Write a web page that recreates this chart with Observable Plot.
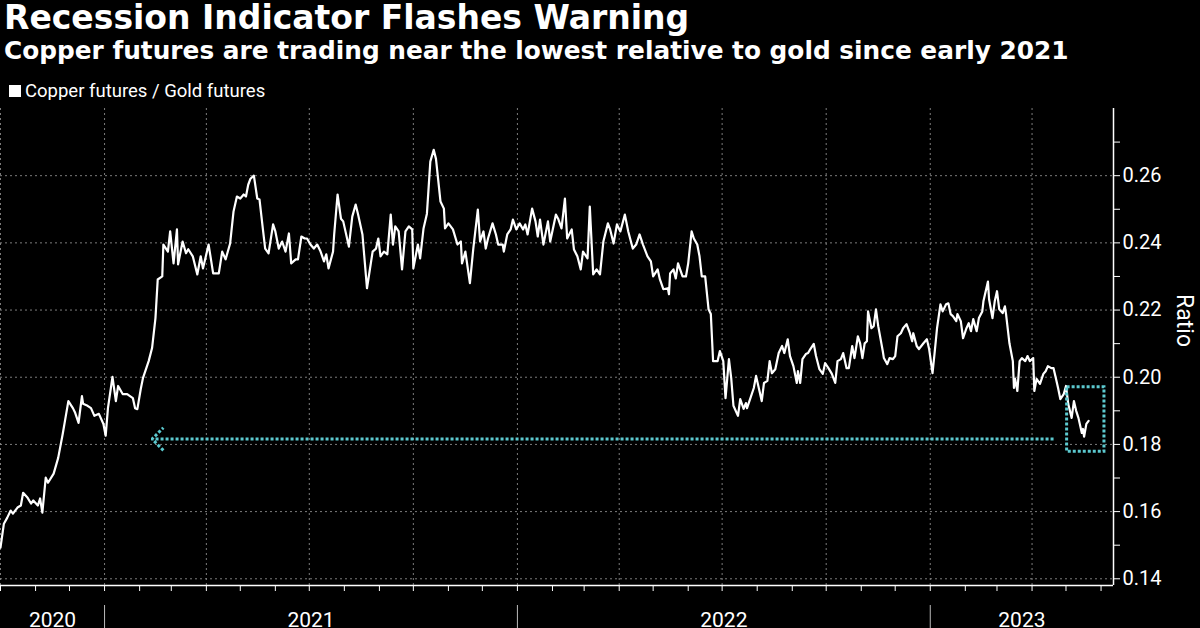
<!DOCTYPE html>
<html>
<head>
<meta charset="utf-8">
<script src="https://cdn.jsdelivr.net/npm/d3@7"></script>
<script src="https://cdn.jsdelivr.net/npm/@observablehq/plot@0.6"></script>
<style>
  html, body { margin: 0; padding: 0; background: #000; }
  body { width: 1200px; height: 628px; overflow: hidden; position: relative; font-family: "DejaVu Sans", sans-serif; color: #fff; }
  #title { position: absolute; left: 4px; top: 1px; font-weight: 700; font-size: 33px; line-height: 34px; white-space: nowrap; }
  #subtitle { position: absolute; left: 4px; top: 37px; font-weight: 700; font-size: 24.8px; line-height: 28px; white-space: nowrap; }
  #legend { position: absolute; left: 9px; top: 80px; font-size: 18.5px; line-height: 22px; font-family: Roboto, sans-serif; white-space: nowrap; display: flex; align-items: center; }
  #legend .sw { width: 12px; height: 12px; background: #fff; margin-right: 4px; }
  #chart { position: absolute; left: 0; top: 100px; }
</style>
</head>
<body>
<div id="title">Recession Indicator Flashes Warning</div>
<div id="subtitle">Copper futures are trading near the lowest relative to gold since early 2021</div>
<div id="legend"><span class="sw"></span><span>Copper futures / Gold futures</span></div>
<div id="chart"></div>
<script>
// ---- Data: Copper futures / Gold futures ratio ----
const dates = [
"2020-10-01","2020-10-04","2020-10-07","2020-10-10","2020-10-12","2020-10-16","2020-10-19","2020-10-21","2020-10-25","2020-10-28","2020-10-30",
"2020-11-03","2020-11-05","2020-11-07","2020-11-10","2020-11-12","2020-11-17","2020-11-21","2020-11-25","2020-11-27","2020-11-30",
"2020-12-04","2020-12-06","2020-12-09","2020-12-12","2020-12-13","2020-12-17","2020-12-20","2020-12-23","2020-12-27","2020-12-31",
"2021-01-02","2021-01-04","2021-01-08","2021-01-11","2021-01-13","2021-01-17","2021-01-21","2021-01-26","2021-01-28","2021-01-30",
"2021-02-02","2021-02-04","2021-02-09","2021-02-12","2021-02-15","2021-02-17","2021-02-21","2021-02-22","2021-02-26","2021-02-28",
"2021-03-03","2021-03-06","2021-03-07","2021-03-11","2021-03-14","2021-03-16","2021-03-20","2021-03-24","2021-03-27","2021-03-29",
"2021-04-03","2021-04-07","2021-04-12","2021-04-15","2021-04-18","2021-04-22","2021-04-25","2021-04-28",
"2021-05-01","2021-05-04","2021-05-06","2021-05-08","2021-05-10","2021-05-13","2021-05-16","2021-05-18","2021-05-21","2021-05-23","2021-05-26","2021-05-30",
"2021-06-01","2021-06-04","2021-06-07","2021-06-10","2021-06-13","2021-06-15","2021-06-19","2021-06-21","2021-06-24","2021-06-27","2021-06-29",
"2021-07-02","2021-07-05","2021-07-08","2021-07-11","2021-07-14","2021-07-16","2021-07-18","2021-07-22","2021-07-23","2021-07-26","2021-07-29","2021-07-31",
"2021-08-05","2021-08-08","2021-08-11","2021-08-13","2021-08-17","2021-08-21","2021-08-26","2021-08-29","2021-08-31",
"2021-09-02","2021-09-05","2021-09-08","2021-09-11","2021-09-13","2021-09-15","2021-09-18","2021-09-21","2021-09-24","2021-09-27","2021-09-30",
"2021-10-01","2021-10-05","2021-10-07","2021-10-10","2021-10-13","2021-10-16","2021-10-19","2021-10-21","2021-10-25","2021-10-28","2021-10-29",
"2021-11-01","2021-11-05","2021-11-09","2021-11-12","2021-11-13","2021-11-16","2021-11-20","2021-11-23","2021-11-27","2021-11-29",
"2021-12-02","2021-12-04","2021-12-06","2021-12-10","2021-12-13","2021-12-15","2021-12-19","2021-12-20","2021-12-23","2021-12-26","2021-12-28","2021-12-31",
"2022-01-03","2022-01-06","2022-01-08","2022-01-10","2022-01-14","2022-01-17","2022-01-19","2022-01-21","2022-01-24","2022-01-28","2022-01-30",
"2022-02-04","2022-02-06","2022-02-09","2022-02-12","2022-02-14","2022-02-18","2022-02-20","2022-02-23","2022-02-26","2022-02-28",
"2022-03-04","2022-03-06","2022-03-09","2022-03-12","2022-03-15","2022-03-18","2022-03-22","2022-03-24","2022-03-27","2022-03-30",
"2022-04-02","2022-04-06","2022-04-09","2022-04-13","2022-04-16","2022-04-19","2022-04-22","2022-04-26","2022-04-29",
"2022-05-01","2022-05-05","2022-05-07","2022-05-10","2022-05-14","2022-05-15","2022-05-16","2022-05-19","2022-05-21","2022-05-23","2022-05-27","2022-05-30",
"2022-06-01","2022-06-04","2022-06-06","2022-06-09","2022-06-11","2022-06-13","2022-06-16","2022-06-19","2022-06-21","2022-06-23","2022-06-27","2022-06-29",
"2022-07-02","2022-07-04","2022-07-07","2022-07-09","2022-07-11","2022-07-15","2022-07-17","2022-07-20","2022-07-22","2022-07-23","2022-07-26","2022-07-29","2022-07-31",
"2022-08-02","2022-08-05","2022-08-07","2022-08-10","2022-08-12","2022-08-14","2022-08-17","2022-08-20","2022-08-23","2022-08-25","2022-08-28","2022-08-30",
"2022-09-02","2022-09-05","2022-09-06","2022-09-08","2022-09-10","2022-09-13","2022-09-15","2022-09-17","2022-09-20","2022-09-22","2022-09-25","2022-09-28","2022-09-30",
"2022-10-03","2022-10-06","2022-10-09","2022-10-11","2022-10-14","2022-10-16","2022-10-19","2022-10-21","2022-10-24","2022-10-26","2022-10-29","2022-10-31",
"2022-11-02","2022-11-04","2022-11-06","2022-11-07","2022-11-10","2022-11-12","2022-11-14","2022-11-16","2022-11-20","2022-11-21","2022-11-24","2022-11-26","2022-11-29",
"2022-12-01","2022-12-03","2022-12-06","2022-12-08","2022-12-11","2022-12-14","2022-12-16","2022-12-17","2022-12-20","2022-12-22","2022-12-26","2022-12-29","2022-12-31",
"2023-01-03","2023-01-05","2023-01-07","2023-01-10","2023-01-12","2023-01-15","2023-01-17","2023-01-19","2023-01-21","2023-01-24","2023-01-25","2023-01-28","2023-01-30",
"2023-02-02","2023-02-04","2023-02-06","2023-02-08","2023-02-11","2023-02-13","2023-02-16","2023-02-17","2023-02-21","2023-02-22","2023-02-25","2023-02-27",
"2023-03-01","2023-03-03","2023-03-06","2023-03-08","2023-03-09","2023-03-12","2023-03-15","2023-03-16","2023-03-17","2023-03-19","2023-03-21","2023-03-23","2023-03-26","2023-03-28","2023-03-30",
"2023-04-02","2023-04-03","2023-04-05","2023-04-08","2023-04-11","2023-04-13","2023-04-15","2023-04-18","2023-04-20","2023-04-22","2023-04-24","2023-04-26","2023-04-29",
"2023-05-01","2023-05-03","2023-05-06","2023-05-08","2023-05-10","2023-05-12","2023-05-15","2023-05-16","2023-05-17","2023-05-19","2023-05-21"
];
const ratios = [
0.1493,0.1564,0.1582,0.1603,0.1594,0.1612,0.1618,0.1656,0.1641,0.1624,0.1633,
0.1618,0.1639,0.1597,0.1701,0.1686,0.1713,0.1760,0.1831,0.1870,0.1929,
0.1908,0.1894,0.1864,0.1944,0.1921,0.1915,0.1908,0.1885,0.1891,0.1861,
0.1826,0.1908,0.2001,0.1929,0.1974,0.1950,0.1950,0.1938,0.1908,0.1905,
0.1965,0.1998,0.2048,0.2087,0.2176,0.2291,0.2300,0.2395,0.2374,0.2434,
0.2339,0.2440,0.2336,0.2404,0.2369,0.2381,0.2360,0.2306,0.2360,0.2324,
0.2395,0.2309,0.2309,0.2374,0.2351,0.2398,0.2493,0.2538,
0.2532,0.2544,0.2538,0.2573,0.2591,0.2600,0.2532,0.2529,0.2440,0.2383,0.2369,0.2455,
0.2434,0.2383,0.2404,0.2374,0.2428,0.2339,0.2351,0.2351,0.2419,0.2413,0.2413,
0.2395,0.2383,0.2395,0.2374,0.2345,0.2366,0.2324,0.2374,0.2425,0.2544,0.2472,0.2464,
0.2389,0.2478,0.2514,0.2487,0.2425,0.2265,0.2374,0.2383,0.2413,
0.2360,0.2374,0.2366,0.2484,0.2395,0.2449,0.2434,0.2321,0.2434,0.2449,0.2440,
0.2324,0.2395,0.2354,0.2443,0.2487,0.2642,0.2677,0.2650,0.2523,0.2502,0.2443,
0.2458,0.2440,0.2395,0.2404,0.2339,0.2374,0.2280,0.2383,0.2499,0.2404,
0.2434,0.2383,0.2413,0.2458,0.2425,0.2395,0.2395,0.2374,0.2425,0.2440,0.2469,0.2440,
0.2458,0.2440,0.2455,0.2425,0.2502,0.2464,0.2419,0.2469,0.2395,0.2464,0.2404,
0.2484,0.2472,0.2443,0.2532,0.2413,0.2440,0.2380,0.2360,0.2321,0.2374,
0.2354,0.2508,0.2306,0.2321,0.2306,0.2404,0.2458,0.2440,0.2398,0.2455,
0.2434,0.2484,0.2434,0.2383,0.2395,0.2425,0.2395,0.2360,0.2345,
0.2300,0.2321,0.2291,0.2262,0.2265,0.2247,0.2309,0.2321,0.2294,0.2339,0.2300,0.2300,
0.2339,0.2434,0.2413,0.2395,0.2360,0.2300,0.2300,0.2202,0.2188,0.2048,0.2048,0.2078,
0.2048,0.1938,0.2054,0.1998,0.1915,0.1885,0.1935,0.1906,0.1923,0.1908,0.1938,0.1968,0.2004,
0.1974,0.1929,0.1983,0.1989,0.2048,0.2012,0.2024,0.2072,0.2093,0.2072,0.2113,0.2063,
0.2033,0.1983,0.2018,0.1983,0.2054,0.2069,0.2072,0.2084,0.2099,0.2063,0.2024,0.2010,0.2042,
0.2027,0.2010,0.1983,0.2048,0.2054,0.2072,0.2027,0.2027,0.2093,0.2057,0.2122,0.2101,
0.2057,0.2101,0.2107,0.2196,0.2146,0.2152,0.2202,0.2152,0.2078,0.2057,0.2039,0.2057,0.2054,
0.2063,0.2122,0.2131,0.2146,0.2158,0.2131,0.2107,0.2131,0.2093,0.2084,0.2101,0.2113,0.2084,
0.2012,0.2078,0.2146,0.2217,0.2196,0.2217,0.2220,0.2188,0.2182,0.2167,0.2188,0.2167,0.2116,
0.2146,0.2161,0.2137,0.2173,0.2137,0.2176,0.2196,0.2226,0.2285,0.2232,0.2176,0.2226,
0.2256,0.2202,0.2191,0.2211,0.2188,0.2101,0.2048,0.1968,0.1995,0.1959,0.2048,0.2057,0.2048,0.2063,0.2048,
0.2057,0.1959,0.1995,0.1980,0.2010,0.2018,0.2033,0.2027,0.2027,0.1998,0.1968,0.1935,0.1950,
0.1974,0.1920,0.1879,0.1929,0.1900,0.1879,0.1834,0.1846,0.1823,0.1861,0.1870
];

// Axis ticks and labels
const yMajorTicks = [0.14, 0.16, 0.18, 0.20, 0.22, 0.24, 0.26];
const yMinorTicks = [0.15, 0.17, 0.19, 0.21, 0.23, 0.25, 0.27];
const yearLabels = ["2020", "2021", "2022", "2023"];
const xStart = "2020-10-01";
const xEnd = "2023-06-12";
const yLow = 0.138;
const yHigh = 0.28;

// Annotation: arrow back to the early-2021 level and box around recent lows
const arrowFrom = "2023-04-20";
const arrowTo = "2021-02-12";
const arrowLevel = 0.1816;
const boxX = ["2023-05-02", "2023-06-04"];
const boxY = [0.1778, 0.1970];

// ---- Build ----
const parse = d3.utcParse("%Y-%m-%d");
const data = dates.map((d, i) => ({date: parse(d), value: ratios[i]}));
const x0 = parse(xStart), x1 = parse(xEnd);
const monthTicks = d3.utcMonth.range(x0, x1);
const quarterTicks = d3.utcMonth.every(3).range(x0, x1);
const yearStarts = d3.utcYear.range(d3.utcDay.offset(x0, 1), x1);
const yearMid = yearLabels.map(y => {
  const a = new Date(Math.max(+x0, Date.UTC(+y, 0, 1)));
  const b = new Date(Math.min(+x1, Date.UTC(+y + 1, 0, 1)));
  return {label: y, date: new Date((+a + +b) / 2)};
});
const cyan = "#5cc9cf";
const gridStyle = {stroke: "#8a8a8a", strokeOpacity: 0.9, strokeDasharray: "2,3", strokeWidth: 1};

const chart = Plot.plot({
  width: 1200,
  height: 528,
  marginTop: 8,
  marginBottom: 43,
  marginLeft: 0,
  marginRight: 87,
  style: {background: "black", color: "white", fontFamily: "Roboto, 'Open Sans', sans-serif", overflow: "visible"},
  x: {type: "utc", domain: [x0, x1]},
  y: {domain: [yLow, yHigh]},
  marks: [
    Plot.gridY(yMajorTicks, gridStyle),
    Plot.gridX(quarterTicks, gridStyle),
    Plot.ruleY([yLow], {stroke: "white", strokeWidth: 1.5}),
    Plot.ruleX([x1], {stroke: "white", strokeWidth: 1.5}),
    Plot.axisX(monthTicks, {anchor: "bottom", tickSize: 6, tickFormat: () => "", stroke: "white", label: null}),
    Plot.axisY(yMajorTicks, {anchor: "right", tickSize: 6, tickPadding: 3, tickFormat: d3.format(".2f"), fontSize: 20, stroke: "white", fill: "white", label: null}),
    Plot.axisY(yMinorTicks, {anchor: "right", tickSize: 6, tickFormat: () => "", stroke: "white", label: null}),
    Plot.ruleX(yearStarts, {stroke: "#bbb", strokeWidth: 1, insetTop: 497, insetBottom: -45}),
    Plot.text(yearMid, {x: "date", text: "label", frameAnchor: "bottom", dy: 27, lineAnchor: "top", fontSize: 21, fill: "white"}),
    Plot.text(["Ratio"], {frameAnchor: "right", dx: 71, rotate: 90, fontSize: 23, fill: "white"}),
    Plot.lineY(data, {x: "date", y: "value", stroke: "white", strokeWidth: 2.2, strokeLinejoin: "round"}),
    Plot.arrow([{a: parse(arrowFrom), b: parse(arrowTo), y: arrowLevel}], {x1: "a", x2: "b", y1: "y", y2: "y", stroke: cyan, strokeWidth: 3, strokeDasharray: "3,2", strokeLinecap: "butt", strokeLinejoin: "miter", headLength: 8, headAngle: 90, bend: 0}),
    Plot.rect([{a: parse(boxX[0]), b: parse(boxX[1]), lo: boxY[0], hi: boxY[1]}], {x1: "a", x2: "b", y1: "lo", y2: "hi", fill: "none", stroke: cyan, strokeWidth: 3, strokeDasharray: "3,2"})
  ]
});
document.getElementById("chart").appendChild(chart);
</script>
</body>
</html>
